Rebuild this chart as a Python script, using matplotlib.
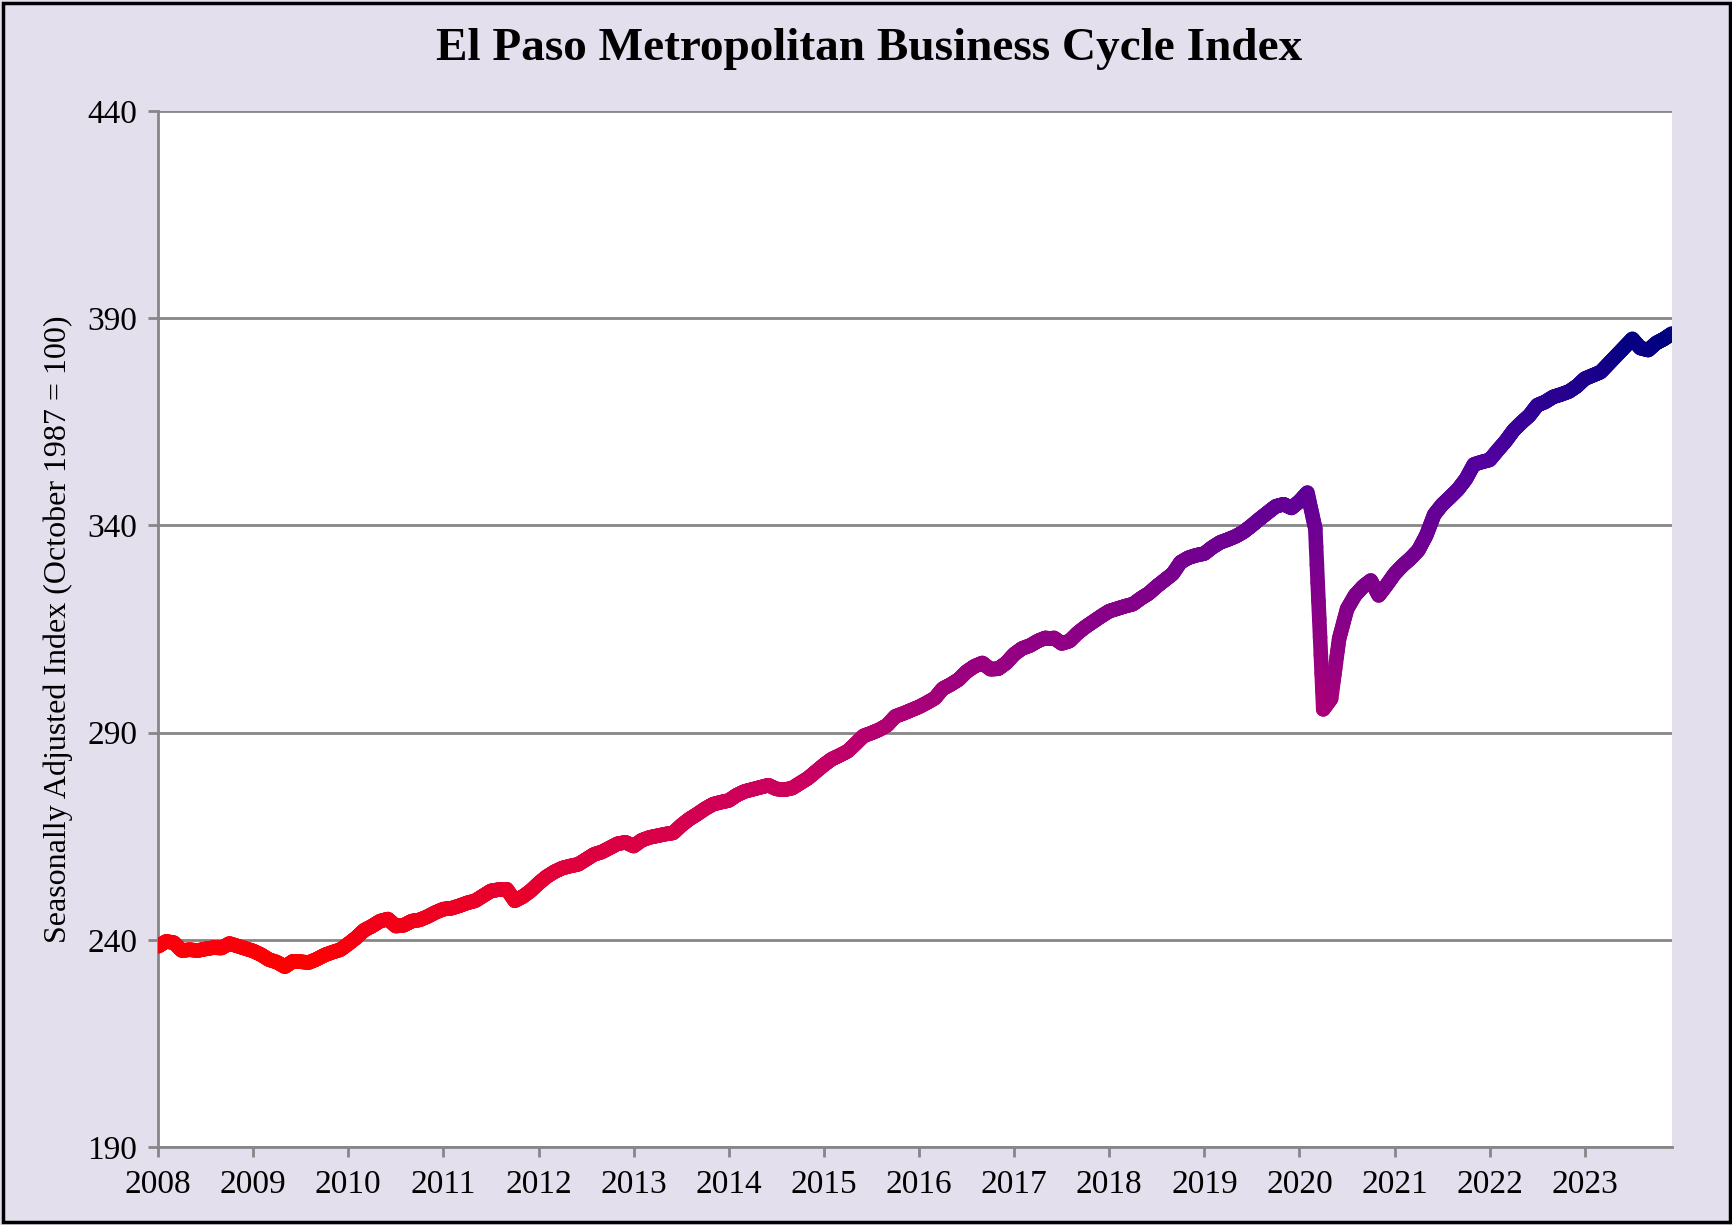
import numpy as np
import matplotlib
matplotlib.use("Agg")
import matplotlib.pyplot as plt
from matplotlib.collections import LineCollection
from matplotlib.colors import LinearSegmentedColormap
from matplotlib.patches import Rectangle

# monthly index values, Jan 2008 .. Dec 2023
START_YEAR = 2008
INDEX = [
    238.4, 239.6, 239.3, 237.4, 237.6, 237.4, 237.8, 238.1, 238.0, 239.1, 238.5, 237.9,  # 2008
    237.3, 236.4, 235.2, 234.6, 233.5, 234.8, 234.7, 234.5, 235.3, 236.3, 237.0, 237.6,  # 2009
    239.0, 240.5, 242.3, 243.3, 244.5, 245.0, 243.3, 243.5, 244.5, 244.8, 245.6, 246.6,  # 2010
    247.4, 247.6, 248.2, 248.9, 249.4, 250.6, 251.8, 252.1, 252.2, 249.4, 250.4, 251.8,  # 2011
    253.6, 255.2, 256.4, 257.3, 257.8, 258.2, 259.4, 260.6, 261.2, 262.2, 263.2, 263.5,  # 2012
    262.6, 264.0, 264.7, 265.1, 265.5, 265.8, 267.6, 269.1, 270.3, 271.6, 272.7, 273.2,  # 2013
    273.6, 274.9, 275.8, 276.3, 276.8, 277.3, 276.4, 276.2, 276.6, 277.8, 279.0, 280.6,  # 2014
    282.2, 283.6, 284.5, 285.5, 287.3, 289.2, 289.9, 290.7, 291.8, 293.9, 294.6, 295.4,  # 2015
    296.2, 297.2, 298.3, 300.6, 301.6, 302.8, 304.7, 306.0, 306.8, 305.3, 305.4, 306.8,  # 2016
    308.9, 310.3, 311.0, 312.1, 312.9, 312.9, 311.5, 312.1, 314.0, 315.5, 316.8, 318.1,  # 2017
    319.3, 319.9, 320.5, 321.0, 322.4, 323.6, 325.3, 326.8, 328.3, 331.1, 332.2, 332.8,  # 2018
    333.2, 334.7, 335.9, 336.6, 337.4, 338.5, 340.0, 341.6, 343.1, 344.6, 345.1, 344.2,  # 2019
    345.8, 347.9, 339.2, 295.6, 298.2, 312.6, 319.8, 323.1, 325.2, 326.7, 323.1, 325.6,  # 2020
    328.3, 330.3, 332.0, 334.0, 337.6, 342.6, 345.0, 346.8, 348.7, 351.2, 354.7, 355.3,  # 2021
    355.8, 358.1, 360.3, 362.9, 364.8, 366.5, 369.0, 369.8, 371.0, 371.6, 372.3, 373.6,  # 2022
    375.4, 376.2, 377.0, 379.0, 381.0, 383.0, 385.0, 382.8, 382.3, 384.0, 385.0, 386.3,  # 2023
]
YEARS = list(range(2008, 2024))
Y_TICKS = [190, 240, 290, 340, 390, 440]

# colour stops of the vertical gradient: index value -> colour
GRAD_VALUES = [233.5, 258, 281, 296, 308, 345, 358, 386.4]
GRAD_COLORS = ["#FF0000", "#E0003C", "#C80064", "#AA0078", "#960082", "#640096", "#5000A0", "#000080"]

BG = "#E4DFEC"
GRID = "#868686"

x = START_YEAR + np.arange(len(INDEX)) / 12.0
y = np.array(INDEX)

fig = plt.figure(figsize=(17.33, 12.25), dpi=100, facecolor=BG)
ax = fig.add_axes([0.0912, 0.0637, 0.8736, 0.8457])
ax.set_facecolor("white")

# split each monthly segment so the vertical colour gradient looks smooth
sub = 10
segs, vals = [], []
for i in range(len(x) - 1):
    t = np.linspace(0, 1, sub + 1)
    xs = x[i] + (x[i + 1] - x[i]) * t
    ys = y[i] + (y[i + 1] - y[i]) * t
    for k in range(sub):
        segs.append([(xs[k], ys[k]), (xs[k + 1], ys[k + 1])])
        vals.append((ys[k] + ys[k + 1]) / 2)

lo, hi = GRAD_VALUES[0], GRAD_VALUES[-1]
stops = [((v - lo) / (hi - lo), c) for v, c in zip(GRAD_VALUES, GRAD_COLORS)]
cmap = LinearSegmentedColormap.from_list("bci", stops)
lc = LineCollection(segs, cmap=cmap, linewidths=10.5, capstyle="round", joinstyle="round", zorder=3)
lc.set_array(np.array(vals))
lc.set_clim(lo, hi)
ax.add_collection(lc)

ax.set_xlim(START_YEAR, x[-1])
ax.set_ylim(190, 440)
ax.set_xticks(YEARS)
ax.set_xticklabels([str(v) for v in YEARS])
ax.set_yticks(Y_TICKS)

ax.yaxis.grid(True, color=GRID, linewidth=2)
ax.set_axisbelow(True)
for s in ["top", "right"]:
    ax.spines[s].set_visible(False)
for s in ["left", "bottom"]:
    ax.spines[s].set_color(GRID)
    ax.spines[s].set_linewidth(2)
ax.tick_params(axis="both", direction="out", length=7, width=2, color=GRID,
               labelsize=24, pad=8)
ax.tick_params(axis="x", pad=9)
for lab in ax.get_xticklabels() + ax.get_yticklabels():
    lab.set_fontfamily("Liberation Serif")

ax.set_ylabel("Seasonally Adjusted Index (October 1987 = 100)", fontsize=23,
              fontfamily="Liberation Serif", labelpad=10)
fig.text(0.5015, 0.960, "El Paso Metropolitan Business Cycle Index", ha="center", va="center",
         fontsize=34, fontweight="bold", fontfamily="Liberation Serif")

fig.patches.append(Rectangle((0.0015, 0.0025), 0.997, 0.995, transform=fig.transFigure,
                             fill=False, edgecolor="black", linewidth=2.5))

fig.savefig("out.png", dpi=100, facecolor=BG)
